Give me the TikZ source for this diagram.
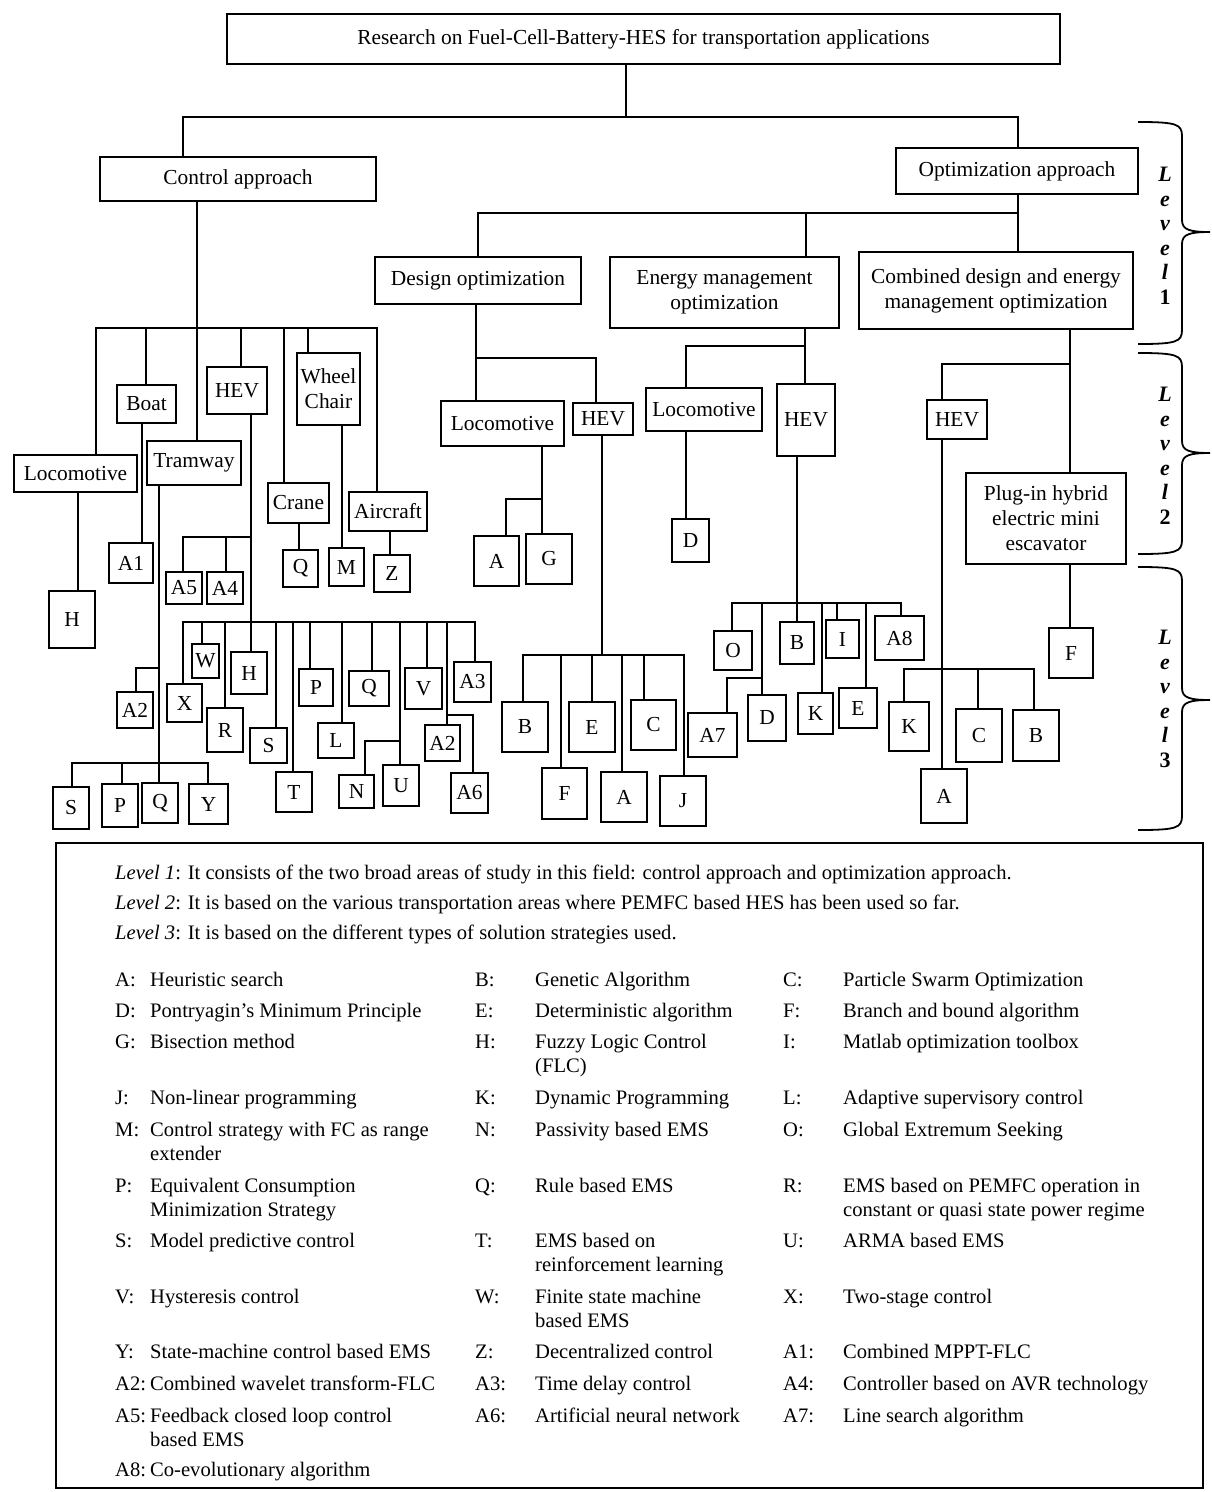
\documentclass[tikz,border=0pt]{standalone}
\usepackage{fontspec}
\setmainfont{Liberation Serif}
\newcommand\myfs{\fontsize{21.4}{25}\selectfont}
\newcommand\mylfs{\fontsize{20.6}{24}\selectfont}
\newcommand\bx[6]{\node[box,minimum width={(#4-(#2))*1pt},minimum height={(#5-(#3))*1pt}] (#1) at ({(#2+#4)/2},{(#3+#5)/2}) {#6};}
\newcommand\vl[3]{\draw[ln] (#1 -| #3,0) -- (#2 -| #3,0);}
\newcommand\brc[3]{\draw[line width=1.8pt] (1138,#1) .. controls (1176,#1) and (1182,#1+2) .. (1182,#1+14) -- (1182,#3-12) .. controls (1182,#3-2) and (1190,#3) .. (1210,#3) .. controls (1190,#3) and (1182,#3+2) .. (1182,#3+12) -- (1182,#2-14) .. controls (1182,#2-2) and (1176,#2) .. (1138,#2);}
\newcommand\legent[5]{\node[lab] (l#1) at (#2,#3) {#1:}; \node[lab] (d#1) at (#2+#4,#3) {\parbox[t]{340pt}{#5}};}
\begin{document}
\begin{tikzpicture}[x=1pt,y=-1pt,
  box/.style={draw,line width=2.3pt,inner sep=0pt,align=center,font=\myfs,fill=white},
  ln/.style={line width=2.3pt,line cap=rect},
  lab/.style={anchor=base west,inner sep=0pt,font=\mylfs},
  lvl/.style={inner sep=0pt,align=center,font=\fontsize{22}{24.5}\selectfont\bfseries\itshape}]
\useasboundingbox (0,0) rectangle (1212,1492);
\fill[white] (0,0) rectangle (1212,1492);
% level 0 and 1
\bx{top}{227}{14}{1060}{64}{Research on Fuel-Cell-Battery-HES for transportation applications}
\bx{ctrl}{100}{157}{376}{201}{Control approach}
\bx{opt}{896}{148}{1138}{194}{Optimization approach}
\coordinate (k0) at (0,117);
\vl{top.south}{k0}{626}
\draw[ln] (k0 -| 183,0) -- (k0 -| 1018,0);
\vl{k0}{ctrl.north}{183}
\vl{k0}{opt.north}{1018}
\bx{des}{375}{257}{581}{304}{Design optimization}
\bx{emo}{610}{257}{839}{328}{Energy management\\optimization}
\bx{cmb}{859}{252}{1133}{329}{Combined design and energy\\management optimization}
\coordinate (k1) at (0,213);
\vl{opt.south}{k1}{1018}
\draw[ln] (k1 -| 478,0) -- (k1 -| 1018,0);
\vl{k1}{des.north}{478}
\vl{k1}{emo.north}{806}
\vl{k1}{cmb.north}{1018}
% control approach
\coordinate (k2) at (0,328);
\vl{ctrl.south}{k2}{197}
\draw[ln] (k2 -| 96,0) -- (k2 -| 377,0);
\bx{loc1}{14}{455}{137}{492}{Locomotive} \vl{k2}{loc1.north}{96}
\bx{boat}{117}{385}{176}{423}{Boat} \vl{k2}{boat.north}{146}
\bx{tram}{147}{441}{241}{485}{Tramway} \vl{k2}{tram.north}{197}
\bx{hev1}{207}{367}{267}{414}{HEV} \vl{k2}{hev1.north}{241}
\bx{crane}{268}{483}{329}{523}{Crane} \vl{k2}{crane.north}{284}
\bx{wch}{297}{353}{360}{425}{Wheel\\Chair} \vl{k2}{wch.north}{308}
\bx{air}{349}{492}{427}{531}{Aircraft} \vl{k2}{air.north}{377}
\bx{h1}{49}{591}{95}{648}{H} \vl{loc1.south}{h1.north}{78}
\bx{a1}{109}{543}{153}{583}{A1} \vl{boat.south}{a1.north}{142}
\bx{q1}{283}{550}{318}{587}{Q} \vl{crane.south}{q1.north}{299}
\bx{m}{329}{548}{364}{586}{M} \vl{wch.south}{m.north}{342}
\bx{z}{374}{555}{410}{592}{Z} \vl{air.south}{z.north}{390}
% HEV (control)
\coordinate (k3) at (0,537);
\coordinate (k4) at (0,622);
\vl{hev1.south}{k4}{251}
\draw[ln] (k3 -| 183,0) -- (k3 -| 251,0);
\bx{a5}{166}{572}{202}{604}{A5} \vl{k3}{a5.north}{183}
\bx{a4}{207}{572}{243}{604}{A4} \vl{k3}{a4.north}{226}
\draw[ln] (k4 -| 183,0) -- (k4 -| 475,0);
\bx{x}{167}{684}{202}{722}{X} \vl{k4}{x.north}{183}
\bx{w}{192}{644}{219}{678}{W} \vl{k4}{w.north}{202}
\bx{r}{207}{708}{243}{752}{R} \vl{k4}{r.north}{225}
\bx{h2}{231}{652}{267}{694}{H} \vl{k4}{h2.north}{251}
\bx{s2}{250}{728}{287}{763}{S} \vl{k4}{s2.north}{276}
\bx{t}{276}{772}{312}{812}{T} \vl{k4}{t.north}{293}
\bx{p2}{299}{669}{333}{706}{P} \vl{k4}{p2.north}{310}
\bx{l}{318}{723}{354}{758}{L} \vl{k4}{l.north}{342}
\bx{q2}{349}{671}{389}{706}{Q} \vl{k4}{q2.north}{372}
\bx{u}{383}{765}{419}{806}{U} \vl{k4}{u.north}{400}
\bx{n}{339}{775}{374}{808}{N}
\coordinate (kn) at (400,741);
\draw[ln] (n.north -| 365,0) |- (kn);
\bx{v}{405}{668}{442}{709}{V} \vl{k4}{v.north}{427}
\bx{a2b}{425}{725}{460}{761}{A2} \vl{k4}{a2b.north}{447}
\bx{a6}{451}{773}{488}{813}{A6}
\coordinate (k6) at (447,715);
\draw[ln] (a6.north -| 473,0) |- (k6);
\bx{a3}{454}{662}{491}{702}{A3} \vl{k4}{a3.north}{475}
% Tramway
\coordinate (k5) at (0,763);
\vl{tram.south}{k5}{159}
\bx{a2a}{117}{692}{153}{728}{A2}
\coordinate (ka2) at (159,668);
\draw[ln] (a2a.north -| 136,0) |- (ka2);
\draw[ln] (k5 -| 72,0) -- (k5 -| 208,0);
\bx{s1}{53}{787}{89}{829}{S} \vl{k5}{s1.north}{72}
\bx{p1}{102}{784}{138}{827}{P} \vl{k5}{p1.north}{122}
\bx{q3}{142}{783}{178}{823}{Q} \vl{k5}{q3.north}{159}
\bx{y}{189}{784}{228}{824}{Y} \vl{k5}{y.north}{208}
% Design optimization
\coordinate (k7) at (0,358);
\vl{des.south}{k7}{476}
\draw[ln] (k7 -| 476,0) -- (k7 -| 596,0);
\bx{loc2}{441}{401}{564}{446}{Locomotive} \vl{k7}{loc2.north}{476}
\bx{hev2}{573}{403}{633}{435}{HEV} \vl{k7}{hev2.north}{596}
\bx{ad}{474}{536}{519}{586}{A}
\bx{g}{526}{534}{572}{584}{G}
\vl{loc2.south}{g.north}{542}
\coordinate (kg) at (542,499);
\draw[ln] (ad.north -| 506,0) |- (kg);
\coordinate (k8) at (0,655);
\vl{hev2.south}{k8}{602}
\draw[ln] (k8 -| 523,0) -- (k8 -| 684,0);
\bx{b1}{502}{702}{548}{752}{B} \vl{k8}{b1.north}{523}
\bx{f1}{542}{768}{587}{819}{F} \vl{k8}{f1.north}{561}
\bx{e1}{569}{702}{615}{752}{E} \vl{k8}{e1.north}{592}
\bx{a7x}{601}{772}{647}{822}{A} \vl{k8}{a7x.north}{622}
\bx{c1}{631}{700}{676}{750}{C} \vl{k8}{c1.north}{644}
\bx{j}{660}{776}{706}{826}{J} \vl{k8}{j.north}{684}
% Energy management optimization
\coordinate (k9) at (0,346);
\vl{emo.south}{k9}{805}
\draw[ln] (k9 -| 686,0) -- (k9 -| 805,0);
\bx{loc3}{646}{388}{762}{431}{Locomotive} \vl{k9}{loc3.north}{686}
\bx{hev3}{777}{384}{835}{456}{HEV} \vl{k9}{hev3.north}{805}
\bx{d1}{672}{519}{709}{562}{D} \vl{loc3.south}{d1.north}{686}
\coordinate (k10) at (0,603);
\vl{hev3.south}{k10}{797}
\draw[ln] (k10 -| 732,0) -- (k10 -| 901,0);
\bx{o}{714}{631}{752}{670}{O} \vl{k10}{o.north}{732}
\bx{d2}{748}{695}{786}{741}{D} \vl{k10}{d2.north}{762}
\bx{a7}{688}{713}{737}{757}{A7}
\coordinate (ka7) at (762,678);
\draw[ln] (a7.north -| 727,0) |- (ka7);
\bx{b2}{780}{622}{814}{664}{B} \vl{k10}{b2.north}{797}
\bx{k1b}{798}{693}{833}{734}{K} \vl{k10}{k1b.north}{822}
\bx{i}{826}{620}{859}{658}{I} \vl{k10}{i.north}{837}
\bx{e2}{839}{688}{877}{728}{E} \vl{k10}{e2.north}{866}
\bx{a8}{875}{616}{924}{660}{A8} \vl{k10}{a8.north}{901}
% Combined
\bx{hev4}{927}{400}{987}{439}{HEV}
\bx{esc}{966}{473}{1126}{564}{Plug-in hybrid\\electric mini\\escavator}
\vl{cmb.south}{esc.north}{1070}
\coordinate (k11) at (1070,364);
\draw[ln] (hev4.north -| 942,0) |- (k11);
\bx{f2}{1049}{628}{1093}{678}{F} \vl{esc.south}{f2.north}{1070}
\coordinate (k12) at (0,669);
\vl{hev4.south}{k12}{942}
\draw[ln] (k12 -| 904,0) -- (k12 -| 1034,0);
\bx{k2b}{889}{702}{929}{751}{K} \vl{k12}{k2b.north}{904}
\bx{ac}{921}{769}{967}{823}{A} \vl{k12}{ac.north}{942}
\bx{c2}{956}{709}{1002}{762}{C} \vl{k12}{c2.north}{978}
\bx{b3}{1013}{710}{1059}{761}{B} \vl{k12}{b3.north}{1034}
% braces and level labels
\brc{122}{344}{232}
\brc{353}{554}{453}
\brc{567}{830}{700}
\node[lvl] (lv1) at (1165,236) {L\\e\\v\\e\\l\\\upshape 1};
\node[lvl] (lv2) at (1165,456) {L\\e\\v\\e\\l\\\upshape 2};
\node[lvl] (lv3) at (1165,699) {L\\e\\v\\e\\l\\\upshape 3};
% legend
\node[draw,line width=1.6pt,minimum width=1147pt,minimum height=645pt,inner sep=0pt] (leg) at (629.5,1165.5) {};
\node[lab] (lev1) at (115,879) {\textit{Level 1}: It consists of the two broad areas of study in this field: control approach and optimization approach.};
\node[lab] (lev2) at (115,909) {\textit{Level 2}: It is based on the various transportation areas where PEMFC based HES has been used so far.};
\node[lab] (lev3) at (115,939) {\textit{Level 3}: It is based on the different types of solution strategies used.};
\legent{A}{115}{986}{35}{Heuristic search}
\legent{B}{475}{986}{60}{Genetic Algorithm}
\legent{C}{783}{986}{60}{Particle Swarm Optimization}
\legent{D}{115}{1017}{35}{Pontryagin’s Minimum Principle}
\legent{E}{475}{1017}{60}{Deterministic algorithm}
\legent{F}{783}{1017}{60}{Branch and bound algorithm}
\legent{G}{115}{1048}{35}{Bisection method}
\legent{H}{475}{1048}{60}{Fuzzy Logic Control\\(FLC)}
\legent{I}{783}{1048}{60}{Matlab optimization toolbox}
\legent{J}{115}{1104}{35}{Non-linear programming}
\legent{K}{475}{1104}{60}{Dynamic Programming}
\legent{L}{783}{1104}{60}{Adaptive supervisory control}
\legent{M}{115}{1136}{35}{Control strategy with FC as range\\extender}
\legent{N}{475}{1136}{60}{Passivity based EMS}
\legent{O}{783}{1136}{60}{Global Extremum Seeking}
\legent{P}{115}{1192}{35}{Equivalent Consumption\\Minimization Strategy}
\legent{Q}{475}{1192}{60}{Rule based EMS}
\legent{R}{783}{1192}{60}{EMS based on PEMFC operation in\\constant or quasi state power regime}
\legent{S}{115}{1247}{35}{Model predictive control}
\legent{T}{475}{1247}{60}{EMS based on\\reinforcement learning}
\legent{U}{783}{1247}{60}{ARMA based EMS}
\legent{V}{115}{1303}{35}{Hysteresis control}
\legent{W}{475}{1303}{60}{Finite state machine\\based EMS}
\legent{X}{783}{1303}{60}{Two-stage control}
\legent{Y}{115}{1358}{35}{State-machine control based EMS}
\legent{Z}{475}{1358}{60}{Decentralized control}
\legent{A1}{783}{1358}{60}{Combined MPPT-FLC}
\legent{A2}{115}{1390}{35}{Combined wavelet transform-FLC}
\legent{A3}{475}{1390}{60}{Time delay control}
\legent{A4}{783}{1390}{60}{Controller based on AVR technology}
\legent{A5}{115}{1422}{35}{Feedback closed loop control\\based EMS}
\legent{A6}{475}{1422}{60}{Artificial neural network}
\legent{A7}{783}{1422}{60}{Line search algorithm}
\legent{A8}{115}{1476}{35}{Co-evolutionary algorithm}
\end{tikzpicture}
\end{document}
